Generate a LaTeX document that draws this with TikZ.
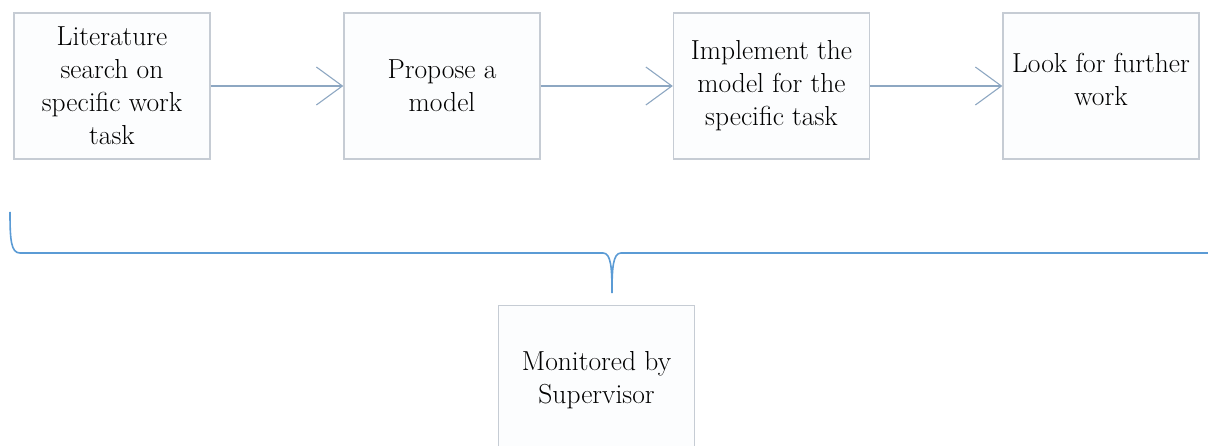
\documentclass[tikz,border=0pt]{standalone}
\usepackage{fontspec}
\usetikzlibrary{arrows.meta}
\definecolor{boxline}{HTML}{C6CCD4}
\definecolor{boxfill}{HTML}{FCFDFE}
\definecolor{flow}{HTML}{8DA7C2}
\definecolor{bracecol}{HTML}{5B9BD5}
\tikzset{
  stepbox/.style={draw=boxline, fill=boxfill, line width=1.4pt, minimum width=196pt, minimum height=146pt, inner sep=0pt},
  boxtext/.style={align=center, inner sep=0pt, font=\fontsize{27.5}{33}\selectfont},
  flowarrow/.style={draw=flow, line width=1.8pt, -{Straight Barb[length=26pt, width=38pt, line width=1.1pt]}},
  bracepath/.style={draw=bracecol, line width=1.6pt}
}
\begin{document}
\begin{tikzpicture}[x=1pt, y=-1pt]
  \useasboundingbox (0,0) rectangle (1208,446);
  % process boxes
  \node[stepbox] (b1) at (112,86) {};
  \node[stepbox] (b2) at (442,86) {};
  \node[stepbox] (b3) at (771.5,86) {};
  \node[stepbox] (b4) at (1101,86) {};
  \node[stepbox, minimum height=170pt, anchor=north] (sv) at (596.5,305) {};
  % box texts
  \node[boxtext] (t1) at (112,86) {Literature\\search on\\specific work\\task};
  \node[boxtext] (t2) at (442,86) {Propose a\\model};
  \node[boxtext] (t3) at (771.5,86) {Implement the\\model for the\\specific task};
  \node[boxtext] (t4) at (1101,79) {Look for further\\work};
  \node[boxtext] (tsv) at (596.5,380) {Monitored by\\Supervisor};
  % flow arrows
  \draw[flowarrow] (b1.east) -- (b2.west);
  \draw[flowarrow] (b2.east) -- (b3.west);
  \draw[flowarrow] (b3.east) -- (b4.west);
  % brace grouping the steps
  \coordinate (bl) at (10,212);
  \coordinate (br) at (1210,253);
  \coordinate (tip) at (612,293);
  \draw[bracepath] (bl) .. controls (10,240) and (11,253) .. (20,253)
    -- (603,253) .. controls (611,253) and (612,268) .. (tip)
    .. controls (612,268) and (613,253) .. (621,253) -- (br);
\end{tikzpicture}
\end{document}
